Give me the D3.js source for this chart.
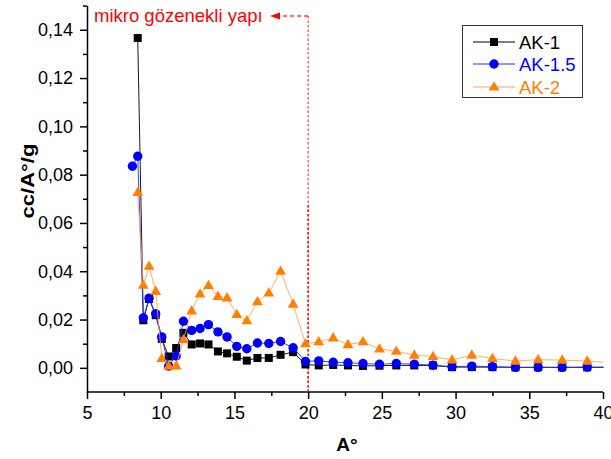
<!DOCTYPE html>
<html><head><meta charset="utf-8">
<script src="https://cdn.jsdelivr.net/npm/d3@7"></script>
<style>
html,body{margin:0;padding:0;background:#fff;}
svg{display:block;font-family:"Liberation Sans",Arial,sans-serif;}
</style></head>
<body><svg id="c" width="611" height="459"></svg>
<script>
// ---- data ----
const poreWidth = [8.08, 8.44, 8.82, 9.21, 9.66, 10.07, 10.54, 11.05, 11.54, 12.1, 12.67, 13.24, 13.88, 14.5, 15.16, 15.84, 16.56, 17.33, 18.13, 18.98, 19.82, 20.72, 21.7, 22.7, 23.72, 24.84, 25.98, 27.2, 28.47, 29.76, 31.1, 32.5, 34.06, 35.6, 37.23, 38.93, 40.7];
const ak1  = [null, 0.1366, 0.0197, 0.0285, 0.0218, 0.0120, 0.0047, 0.0082, 0.0145, 0.0097, 0.0101, 0.0097, 0.0068, 0.0060, 0.0046, 0.0030, 0.0041, 0.0041, 0.0054, 0.0065, 0.0014, 0.0010, 0.0012, 0.0010, 0.0008, 0.0009, 0.0010, 0.0010, 0.0010, 0.0003, 0.0003, 0.0003, 0.0002, 0.0002, 0.0002, 0.0002, 0.0002];
const ak15 = [0.0835, 0.0876, 0.0207, 0.0288, 0.0224, 0.0128, 0.0007, 0.0049, 0.0193, 0.0155, 0.0163, 0.0179, 0.0149, 0.0128, 0.0089, 0.0079, 0.0103, 0.0101, 0.0109, 0.0083, 0.0027, 0.0029, 0.0023, 0.0021, 0.0018, 0.0015, 0.0018, 0.0015, 0.0011, 0.0005, 0.0007, 0.0005, 0.0002, 0.0002, 0.0002, 0.0003, 0.0003];
const ak2  = [null, 0.0726, 0.0342, 0.0421, 0.0317, 0.0039, 0.0007, 0.0008, 0.0117, 0.0236, 0.0306, 0.0341, 0.0296, 0.0290, 0.0221, 0.0195, 0.0274, 0.0310, 0.0400, 0.0264, 0.0100, 0.0108, 0.0124, 0.0096, 0.0108, 0.0078, 0.0069, 0.0053, 0.0047, 0.0033, 0.0053, 0.0039, 0.0028, 0.0034, 0.0032, 0.0028, 0.0020];
const seriesNames = ["AK-1", "AK-1.5", "AK-2"];
const xTicks = [5, 10, 15, 20, 25, 30, 35, 40];
const xMinorTicks = [7.5, 12.5, 17.5, 22.5, 27.5, 32.5, 37.5];
const yTicks = [0, 0.02, 0.04, 0.06, 0.08, 0.10, 0.12, 0.14];
const yMinorTicks = [0.01, 0.03, 0.05, 0.07, 0.09, 0.11, 0.13, 0.15];
const xTitle = "A°";
const yTitle = "cc/A°/g";
const annotation = "mikro gözenekli yapı";
const boundaryX = 20;

// ---- setup ----
const svg = d3.select("#c");
const x = d3.scaleLinear([5, 40], [87, 603]);
const y = d3.scaleLinear([-0.01, 0.15], [392, 5.6]);
const fmt = d => d3.format(".2f")(d).replace(".", ",");
const FONT = 18;

svg.append("defs").append("clipPath").attr("id", "clip")
  .append("rect").attr("x", x(5)).attr("y", 0).attr("width", x(40) - x(5) + 0.5).attr("height", y(-0.01));

// axes
const gx = svg.append("g").attr("transform", `translate(0,${y(-0.01)})`);
gx.call(d3.axisBottom(x).tickValues(xTicks).tickSize(7).tickPadding(7).tickSizeOuter(0).tickFormat(d3.format("d")));
const gxm = svg.append("g").attr("transform", `translate(0,${y(-0.01)})`);
gxm.call(d3.axisBottom(x).tickValues(xMinorTicks).tickSize(4).tickSizeOuter(0).tickFormat(""));
gxm.select(".domain").remove();

const gy = svg.append("g").attr("transform", `translate(${x(5)},0)`);
gy.call(d3.axisLeft(y).tickValues(yTicks).tickSize(7).tickPadding(7).tickSizeOuter(0).tickFormat(fmt));
const gym = svg.append("g").attr("transform", `translate(${x(5)},0)`);
gym.call(d3.axisLeft(y).tickValues(yMinorTicks).tickSize(4).tickSizeOuter(0).tickFormat(""));
gym.select(".domain").remove();

[gx, gxm, gy, gym].forEach(g => {
  g.selectAll("path,line").attr("stroke", "#000").attr("stroke-width", 1.5);
  g.selectAll("text").attr("font-size", FONT).attr("fill", "#000")
   .attr("font-family", "'Liberation Sans', Arial, sans-serif");
});
gx.select(".domain").attr("d", `M${x(5)},0H${x(40)}`);

// axis titles
svg.append("text").attr("x", (x(5) + x(40)) / 2 + 2).attr("y", 451)
  .attr("text-anchor", "middle").attr("font-size", 19).attr("font-weight", "bold").text(xTitle);
svg.append("text").attr("transform", `translate(34,181) rotate(-90) scale(1,0.85)`)
  .attr("text-anchor", "middle").attr("font-size", 22).attr("font-weight", "bold").text(yTitle);

// annotation
const red = "#ff0000";
const ay = 16;
svg.append("text").attr("x", 94).attr("y", 22).attr("fill", red).attr("font-size", 18.5).text(annotation);
svg.append("line").attr("x1", x(boundaryX)).attr("x2", 279).attr("y1", ay).attr("y2", ay)
  .attr("stroke", "#ff6a6a").attr("stroke-width", 1.8).attr("stroke-dasharray", "4,3");
svg.append("path").attr("d", `M270,${ay}L280,${ay - 3.5}L280,${ay + 3.5}Z`).attr("fill", red);
svg.append("line").attr("x1", x(boundaryX)).attr("x2", x(boundaryX)).attr("y1", ay).attr("y2", y(-0.01))
  .attr("stroke", "#ff3030").attr("stroke-width", 1.1).attr("stroke-dasharray", "2.5,2");
svg.append("line").attr("x1", x(boundaryX)).attr("x2", x(boundaryX)).attr("y1", 205).attr("y2", y(-0.01))
  .attr("stroke", red).attr("stroke-width", 1.3).attr("stroke-dasharray", "2.5,2");

// series
const colors = ["#000000", "#0000ff", "#ff8000"];
const lineColors = ["#000000", "#2b2bff", "#ffa050"];
const values = [ak1, ak15, ak2];
const triPath = "M0,-5.8L5.4,3.6L-5.4,3.6Z";
function marker(g, i, cx, cy) {
  if (i === 0) g.append("rect").attr("x", cx - 4).attr("y", cy - 4).attr("width", 8).attr("height", 8).attr("fill", colors[0]);
  else if (i === 1) g.append("circle").attr("cx", cx).attr("cy", cy).attr("r", 4.7).attr("fill", colors[1]);
  else g.append("path").attr("d", triPath).attr("transform", `translate(${cx},${cy})`).attr("fill", colors[2]);
}
const plot = svg.append("g").attr("clip-path", "url(#clip)");
values.forEach((vals, i) => {
  const pts = poreWidth.map((w, k) => [w, vals[k]]).filter(p => p[1] !== null);
  const g = plot.append("g");
  g.append("path").datum(pts)
    .attr("d", d3.line().x(p => x(p[0])).y(p => y(p[1])))
    .attr("fill", "none").attr("stroke", lineColors[i]).attr("stroke-width", 1)
    .attr("stroke-opacity", i === 2 ? 0.85 : 0.9);
  pts.forEach(p => marker(g, i, x(p[0]), y(p[1])));
});

// legend
const lg = svg.append("g");
lg.append("rect").attr("x", 462.5).attr("y", 25.5).attr("width", 120).attr("height", 72)
  .attr("fill", "#fff").attr("stroke", "#333").attr("stroke-width", 1);
const ly = [42, 64, 87];
seriesNames.forEach((n, i) => {
  lg.append("line").attr("x1", 473).attr("x2", 515).attr("y1", ly[i]).attr("y2", ly[i])
    .attr("stroke", lineColors[i]).attr("stroke-width", 1);
  marker(lg, i, 494, ly[i]);
  lg.append("text").attr("x", 519).attr("y", ly[i] + 6.5).attr("font-size", 18.5)
    .attr("fill", colors[i]).text(n);
});
</script></body></html>
